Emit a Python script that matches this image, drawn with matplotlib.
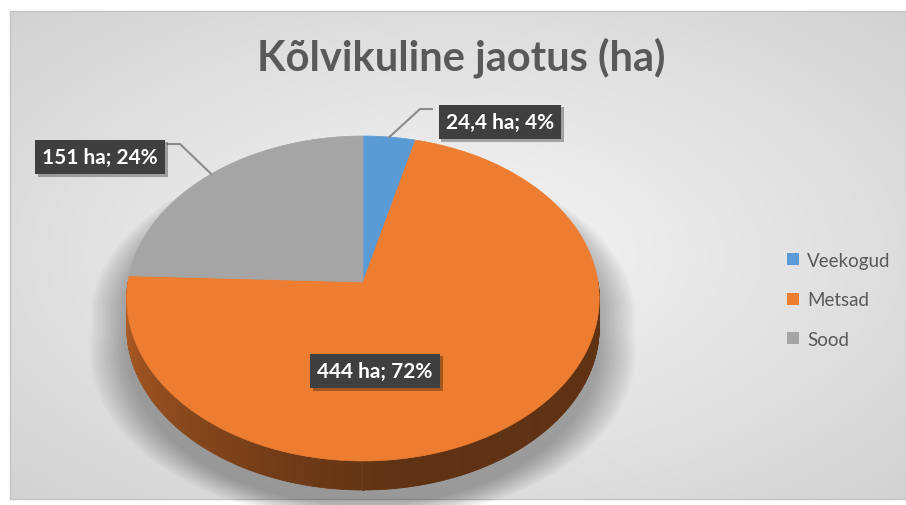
import numpy as np
import matplotlib.pyplot as plt
import matplotlib.colors as mcolors
import matplotlib.patheffects as pe
from matplotlib.patches import Polygon, Patch, Rectangle

categories = ['Veekogud', 'Metsad', 'Sood']
values = [24.4, 444, 151]
labels = ['24,4 ha; 4%', '444 ha; 72%', '151 ha; 24%']
colors = ['#5B9BD5', '#ED7D31', '#A5A5A5']
title = 'Kõlvikuline jaotus (ha)'

plt.rcParams['font.family'] = ['Lato', 'DejaVu Sans']

W, H = 906, 506
fig = plt.figure(figsize=(W / 100, H / 100), dpi=100)
ax = fig.add_axes([0, 0, 1, 1])
ax.set_xlim(0, W)
ax.set_ylim(H, 0)
ax.axis('off')

# chart area background, soft radial gradient
gx, gy = np.meshgrid(np.linspace(-1, 1, 400), np.linspace(-1, 1, 220))
r = np.sqrt(gx**2 + gy**2) / np.sqrt(2)
g = 0.965 - 0.14 * r
ax.imshow(np.dstack([g, g, g]), extent=(10, W, 500, 12), aspect='auto',
          interpolation='bilinear', zorder=0)
ax.add_patch(Rectangle((10, 12), W - 10, 488, fill=False, ec='#c4c4c4', lw=1, zorder=0.5))

# tilted pie geometry (pixel units)
cx, cy, rx, ry, k, depth = 363, 283, 235, 160.8, 0.1015, 29


def proj(theta, dz=0.0):
    t = np.radians(theta)
    u, v = np.sin(t), np.cos(t)
    s = 1 / (1 + k * v)
    return cx + rx * u * s, cy - ry * v * s + dz


total = sum(values)
bounds = np.concatenate([[0], np.cumsum(values) / total * 360])

# shadow under the pie
th_back = np.linspace(-90, 90, 200)
th_front = np.linspace(90, 270, 200)
bx, by = proj(th_back)
fx, fy = proj(th_front, depth)
sx = np.concatenate([bx, fx])
sy = np.concatenate([by, fy])
for i in range(14):
    sc = 1 + 0.012 * i
    ax.fill(cx + (sx - cx) * sc, cy + 22 + (sy - cy) * (0.97 + 0.006 * i), color='k',
            alpha=0.022, lw=0, zorder=1)

# side of the pie (only the front half shows)
for i, c in enumerate(colors):
    lo, hi = max(bounds[i], 90), min(bounds[i + 1], 270)
    if hi <= lo:
        continue
    base = np.array(mcolors.to_rgb(c))
    th = np.linspace(lo, hi, int(hi - lo) * 2 + 2)
    for a, b in zip(th[:-1], th[1:]):
        m = (a + b) / 2
        f = 0.40 if m < 170 else 0.40 + 0.36 * ((m - 170) / 100) ** 1.2
        x1, y1 = proj(a)
        x2, y2 = proj(b)
        ax.add_patch(Polygon([(x1, y1), (x2, y2), (x2, y2 + depth), (x1, y1 + depth)],
                             closed=True, fc=base * f, ec=base * f, lw=0.6, zorder=2))

# top faces
for i, c in enumerate(colors):
    th = np.linspace(bounds[i], bounds[i + 1], 200)
    px, py = proj(th)
    pts = np.column_stack([np.concatenate([[cx], px]), np.concatenate([[cy], py])])
    ax.add_patch(Polygon(pts, closed=True, fc=c, ec=c, lw=0.5, zorder=3))

# data labels
label_pos = [(500, 123), (375, 372), (100, 158)]
for i, (lab, (lx, ly)) in enumerate(zip(labels, label_pos)):
    t = ax.text(lx, ly, lab, ha='center', va='center', color='white', fontsize=15,
                fontweight='bold', zorder=6,
                bbox=dict(boxstyle='square,pad=0.35', fc='#3f3f3f', ec='none'))
    t.get_bbox_patch().set_path_effects([
        pe.SimplePatchShadow(offset=(2, -2), shadow_rgbFace='k', alpha=0.3), pe.Normal()])

# leader lines for the two outside labels
for i, side in [(0, -1), (2, 1)]:
    mid = (bounds[i] + bounds[i + 1]) / 2
    px, py = proj(mid)
    lx, ly = label_pos[i]
    ex = lx + side * 68
    ey = ly - 13
    ax.plot([px, ex + side * 12, ex], [py, ey, ey], color='#8c8c8c', lw=1.5, zorder=5)

ax.text(461, 58, title, ha='center', va='center', fontsize=30, fontweight='bold',
        color='#595959', zorder=6)

handles = [Patch(fc=c, ec='none') for c in colors]
ax.legend(handles, categories, loc='center left', bbox_to_anchor=(778 / W, 1 - 301 / H),
          frameon=False, fontsize=13.5, labelcolor='#595959', handlelength=0.6,
          handleheight=0.6, handletextpad=0.45, labelspacing=1.2, borderpad=0)

fig.savefig('out.png', dpi=100)
